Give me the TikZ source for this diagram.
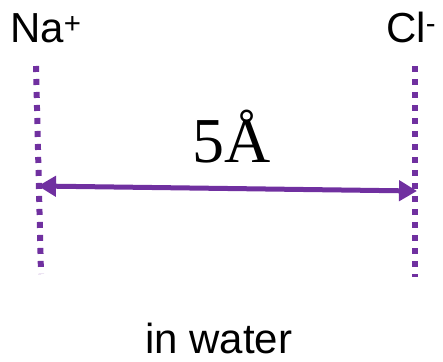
\documentclass[tikz,border=0pt]{standalone}
\usepackage{fontspec}
\setmainfont{Liberation Sans}
\newfontfamily\serifnum{Liberation Serif}
\usetikzlibrary{arrows.meta}
\definecolor{ionpurple}{HTML}{7030A0}
\tikzset{
  ionlabel/.style={inner sep=0pt, anchor=base west, font=\fontsize{42}{48}\selectfont},
  dotline/.style={draw=ionpurple, line width=6pt, line cap=butt, dash pattern=on 6pt off 7pt},
  distarrow/.style={draw=ionpurple, line width=5pt, {Triangle[length=18pt,width=20pt]}-{Triangle[length=18pt,width=20pt]}}
}
\begin{document}
\begin{tikzpicture}[x=1pt,y=1pt]
\useasboundingbox (0,0) rectangle (443,361);
\node[ionlabel] (na) at (10,318) {Na\textsuperscript{+}};
\node[ionlabel] (cl) at (386,318) {Cl\textsuperscript{-}};
\node[inner sep=0pt, anchor=base west, font=\serifnum\fontsize{64}{70}\selectfont] (dist) at (192,198) {5Å};
\node[ionlabel] (water) at (145,8) {in water};
\coordinate (ltop) at (36,295);
\coordinate (lbot) at (41,87);
\coordinate (rtop) at (415,295);
\coordinate (rbot) at (415,84);
\coordinate (la) at (38,175);
\coordinate (ra) at (417,170);
\draw[dotline] (ltop) -- (lbot);
\draw[dotline] (rtop) -- (rbot);
\draw[distarrow] (la) -- (ra);
\end{tikzpicture}
\end{document}
